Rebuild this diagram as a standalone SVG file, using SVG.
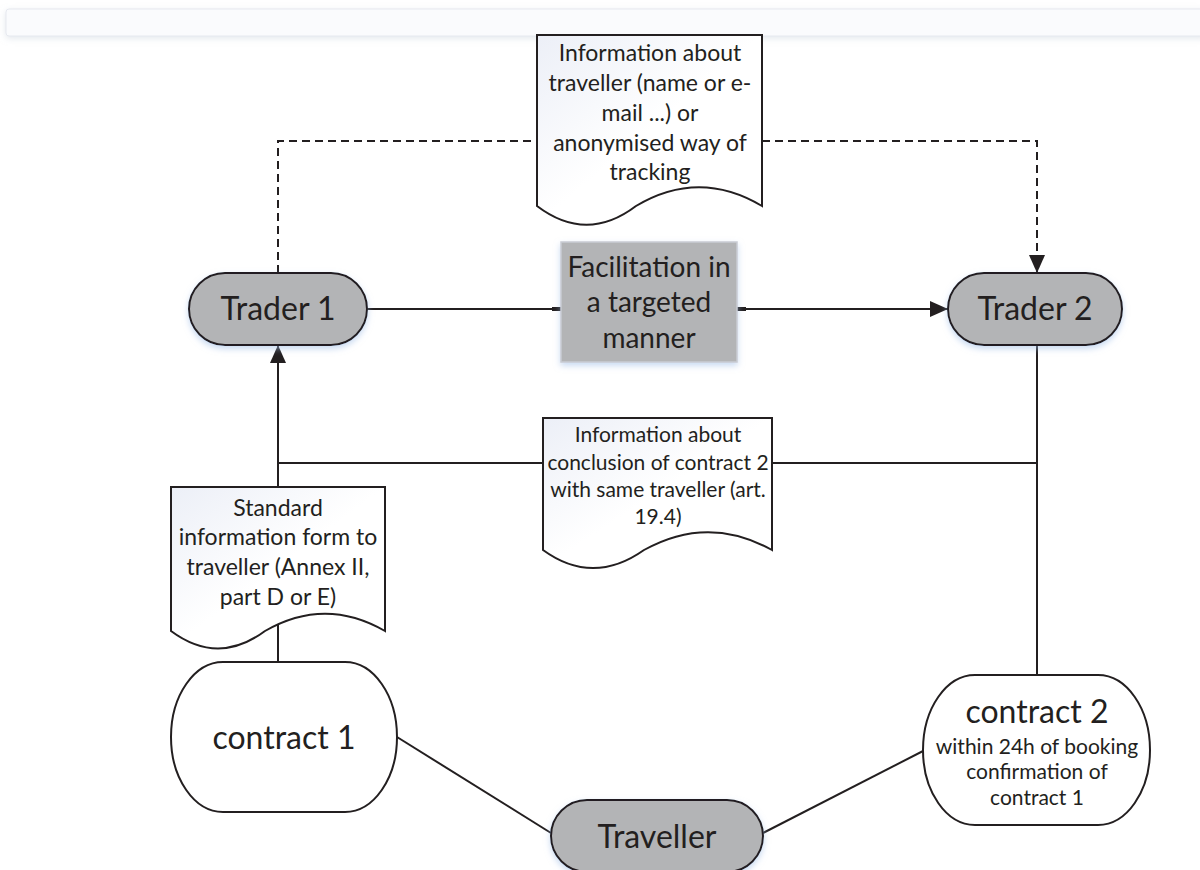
<svg xmlns="http://www.w3.org/2000/svg" width="1200" height="870" viewBox="0 0 1200 870">
<defs>
<style>
.ln{stroke:#231f20;stroke-width:2;fill:none}
.dash{stroke:#231f20;stroke-width:2;fill:none;stroke-dasharray:8 5}
.term{fill:#b3b4b6;stroke:#231f20;stroke-width:2}
.cont{fill:#ffffff;stroke:#231f20;stroke-width:2}
.doc{fill:url(#docg);stroke:#231f20;stroke-width:2}
.box{fill:#b3b4b6;stroke:#c9ccd3;stroke-width:1.5}
text{font-family:Lato,"Liberation Sans",sans-serif;fill:#231f20;text-anchor:middle}
.big{font-size:32px}
.mid{font-size:28px}
.t23{font-size:23px}
.t21{font-size:21px}
</style>
<linearGradient id="docg" x1="0" y1="0" x2="0.5" y2="0.5">
<stop offset="0" stop-color="#eceff7"/>
<stop offset="1" stop-color="#ffffff"/>
</linearGradient>
<filter id="sh" x="-20%" y="-20%" width="140%" height="160%">
<feDropShadow dx="0" dy="3" stdDeviation="3" flood-color="#9dbbe6" flood-opacity="0.55"/>
</filter>
<filter id="barsh" x="-5%" y="-50%" width="110%" height="200%">
<feDropShadow dx="0" dy="2" stdDeviation="3" flood-color="#c8d0dc" flood-opacity="0.5"/>
</filter>
<marker id="ah" markerUnits="userSpaceOnUse" markerWidth="18" markerHeight="16" refX="18" refY="8" orient="auto">
<path d="M0,0 L18,8 L0,16 Z" fill="#231f20"/>
</marker>
</defs>
<rect x="0" y="0" width="1200" height="870" fill="#ffffff"/>
<rect id="topbar" x="6" y="9" width="1200" height="27" rx="3" fill="#fafbfd" stroke="#e6e9ef" stroke-width="1" filter="url(#barsh)"/>
<g id="connectors">
<path class="dash" d="M278,273 V141 H537"/>
<path class="dash" d="M762,141 H1037 V273" marker-end="url(#ah)"/>
<path class="ln" d="M367,309 H561"/>
<path stroke="#231f20" stroke-width="4" d="M552,309 H561"/>
<path class="ln" d="M737,309 H948" marker-end="url(#ah)"/>
<path stroke="#231f20" stroke-width="4" d="M737,309 H746"/>
<path class="ln" d="M278,487 V345" marker-end="url(#ah)"/>
<path class="ln" d="M278,463 H543"/>
<path class="ln" d="M772,463 H1037"/>
<path class="ln" d="M1037,345 V675"/>
<path class="ln" d="M278,612 V662"/>
<path class="ln" d="M397,737 L551,833"/>
<path class="ln" d="M763,833 L925,750"/>
</g>
<g id="doc-tracking">
<path class="doc" d="M537,35 H762 V206 C720,181 678,181 636,206 C603,231 570,231 537,206 Z"/>
<text class="t23" x="650" y="61">Information about</text>
<text class="t23" x="650" y="91">traveller (name or e-</text>
<text class="t23" x="650" y="121">mail ...) or</text>
<text class="t23" x="650" y="151">anonymised way of</text>
<text class="t23" x="650" y="180">tracking</text>
</g>
<g id="trader1">
<rect class="term" x="189" y="273" width="178" height="72" rx="36" filter="url(#sh)"/>
<text class="big" x="278" y="320">Trader 1</text>
</g>
<g id="facilitation">
<rect class="box" x="561" y="242" width="176" height="120" filter="url(#sh)"/>
<text class="mid" x="649" y="277">Facilitation in</text>
<text class="mid" x="649" y="312">a targeted</text>
<text class="mid" x="649" y="348">manner</text>
</g>
<g id="trader2">
<rect class="term" x="948" y="273" width="174" height="72" rx="36" filter="url(#sh)"/>
<text class="big" x="1035" y="320">Trader 2</text>
</g>
<g id="doc-conclusion">
<path class="doc" d="M543,418 H772 V550 C729,526 687,526 644,550 C610,574 576,574 543,550 Z"/>
<text class="t21" x="658" y="442">Information about</text>
<text class="t21" x="658" y="470">conclusion of contract 2</text>
<text class="t21" x="658" y="497">with same traveller (art.</text>
<text class="t21" x="658" y="524">19.4)</text>
</g>
<g id="doc-standard">
<path class="doc" d="M171,487 H385 V631 C345,608 305,608 265,631 C234,654 202,654 171,631 Z"/>
<text class="t23" x="278" y="516">Standard</text>
<text class="t23" x="278" y="545">information form to</text>
<text class="t23" x="278" y="575">traveller (Annex II,</text>
<text class="t23" x="278" y="605">part D or E)</text>
</g>
<g id="contract1">
<rect class="cont" x="171" y="662" width="226" height="150" rx="52" ry="75"/>
<text class="big" x="284" y="749">contract 1</text>
</g>
<g id="contract2">
<rect class="cont" x="923" y="675" width="227" height="150" rx="52" ry="75"/>
<text class="big" x="1037" y="723">contract 2</text>
<text class="t21" x="1037" y="754">within 24h of booking</text>
<text class="t21" x="1037" y="779">confirmation of</text>
<text class="t21" x="1037" y="805">contract 1</text>
</g>
<g id="traveller">
<rect class="term" x="551" y="800" width="212" height="72" rx="36" filter="url(#sh)"/>
<text class="big" x="657" y="848">Traveller</text>
</g>
</svg>
